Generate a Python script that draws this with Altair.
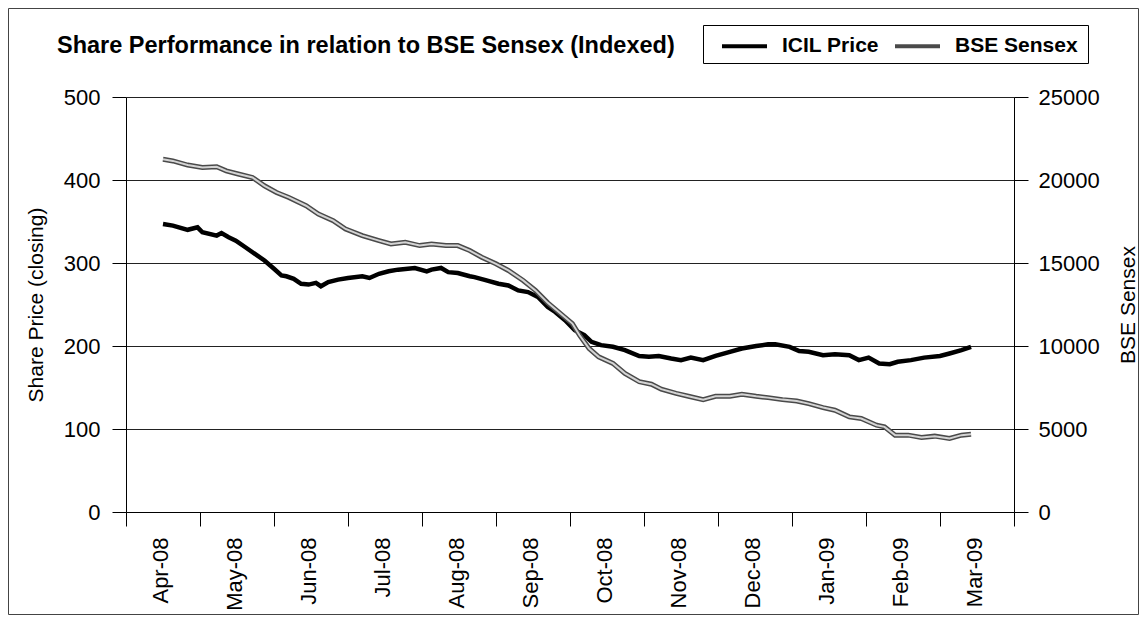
import altair as alt
import pandas as pd
import calendar

# ---- data ----
months = ["Apr-08", "May-08", "Jun-08", "Jul-08", "Aug-08", "Sep-08",
          "Oct-08", "Nov-08", "Dec-08", "Jan-09", "Feb-09", "Mar-09"]

icil_dates = ["2008-04-16", "2008-04-20", "2008-04-26", "2008-04-30", "2008-05-02", "2008-05-08",
              "2008-05-10", "2008-05-13", "2008-05-16", "2008-05-20", "2008-05-24", "2008-05-28",
              "2008-06-01", "2008-06-04", "2008-06-06", "2008-06-09", "2008-06-12", "2008-06-15",
              "2008-06-18", "2008-06-20", "2008-06-23", "2008-06-27", "2008-07-01", "2008-07-07",
              "2008-07-10", "2008-07-14", "2008-07-18", "2008-07-22", "2008-07-29", "2008-08-03",
              "2008-08-05", "2008-08-09", "2008-08-12", "2008-08-16", "2008-08-21", "2008-08-23",
              "2008-08-28", "2008-09-02", "2008-09-06", "2008-09-10", "2008-09-14", "2008-09-18",
              "2008-09-22", "2008-09-25", "2008-09-29", "2008-10-03", "2008-10-07", "2008-10-10",
              "2008-10-14", "2008-10-19", "2008-10-24", "2008-10-30", "2008-11-03", "2008-11-07",
              "2008-11-12", "2008-11-16", "2008-11-20", "2008-11-25", "2008-11-30", "2008-12-06",
              "2008-12-11", "2008-12-17", "2008-12-22", "2008-12-25", "2008-12-31", "2009-01-04",
              "2009-01-08", "2009-01-14", "2009-01-19", "2009-01-25", "2009-01-29", "2009-02-02",
              "2009-02-06", "2009-02-10", "2009-02-13", "2009-02-18", "2009-02-23", "2009-03-01",
              "2009-03-05", "2009-03-10", "2009-03-14"]
icil_price = [347, 345, 340, 343, 337, 333, 336, 331, 327, 319, 311, 303,
              293, 285, 284, 281, 275, 274, 276, 272, 277, 280, 282, 284,
              282, 287, 290, 292, 294, 290, 292, 294, 289, 288, 284, 283,
              279, 275, 273, 267, 265, 259, 247, 241, 231, 219, 213, 205,
              201, 199, 195, 188, 187, 188, 185, 183, 186, 183, 188, 193,
              197, 200, 202, 202, 199, 194, 193, 189, 190, 189, 183, 186,
              179, 178, 181, 183, 186, 188, 191, 195, 199]

sensex_dates = ["2008-04-16", "2008-04-20", "2008-04-26", "2008-05-02", "2008-05-08", "2008-05-12",
                "2008-05-17", "2008-05-23", "2008-05-28", "2008-06-02", "2008-06-07", "2008-06-14",
                "2008-06-19", "2008-06-25", "2008-06-30", "2008-07-07", "2008-07-14", "2008-07-19",
                "2008-07-25", "2008-07-31", "2008-08-05", "2008-08-11", "2008-08-16", "2008-08-21",
                "2008-08-26", "2008-09-01", "2008-09-06", "2008-09-12", "2008-09-17", "2008-09-22",
                "2008-09-28", "2008-10-02", "2008-10-05", "2008-10-09", "2008-10-13", "2008-10-19",
                "2008-10-24", "2008-10-30", "2008-11-04", "2008-11-08", "2008-11-14", "2008-11-19",
                "2008-11-25", "2008-11-30", "2008-12-06", "2008-12-11", "2008-12-17", "2008-12-22",
                "2008-12-28", "2009-01-03", "2009-01-08", "2009-01-14", "2009-01-19", "2009-01-25",
                "2009-01-30", "2009-02-05", "2009-02-08", "2009-02-12", "2009-02-17", "2009-02-22",
                "2009-02-27", "2009-03-05", "2009-03-10", "2009-03-14"]
sensex_close = [21250, 21150, 20900, 20750, 20800, 20550, 20360, 20150, 19650, 19250, 18950, 18450,
                17950, 17550, 17050, 16650, 16350, 16150, 16250, 16050, 16150, 16050, 16050, 15750,
                15350, 14950, 14550, 13950, 13350, 12600, 11850, 11350, 10650, 9850, 9350, 8950,
                8350, 7850, 7700, 7400, 7150, 6970, 6770, 6970, 6970, 7090, 6970, 6890,
                6770, 6690, 6530, 6290, 6130, 5730, 5630, 5230, 5130, 4630, 4630, 4490,
                4570, 4430, 4630, 4690]

series_names = ["ICIL Price", "BSE Sensex"]
month_ticks = list(range(13))
left_ticks = [0, 100, 200, 300, 400, 500]
right_ticks = [0, 5000, 10000, 15000, 20000, 25000]


def month_pos(d):
    t = pd.Timestamp(d)
    days = calendar.monthrange(t.year, t.month)[1]
    return (t.year - 2008) * 12 + (t.month - 4) + (t.day - 1) / days


icil = pd.DataFrame({"date": icil_dates, "price": icil_price})
icil["pos"] = icil["date"].map(month_pos)
icil["series"] = series_names[0]
sensex = pd.DataFrame({"date": sensex_dates, "close": sensex_close})
sensex["pos"] = sensex["date"].map(month_pos)
sensex["series"] = series_names[1]

W, H = 888, 415
SANS = "Liberation Sans, Arial, sans-serif"

label_expr = "datum.value < 12 ? " + str(months) + "[datum.value] : ''"

x_enc = alt.X("pos:Q", scale=alt.Scale(domain=[0, 12], nice=False, zero=False),
              axis=alt.Axis(values=month_ticks, labelExpr=label_expr, labelAngle=270,
                            labelOffset=34, tickSize=14, labelPadding=11, grid=False,
                            domainColor="black", tickColor="black", labelColor="black",
                            labelFont=SANS, labelFontSize=22, title=None))

color_scale = alt.Scale(domain=series_names, range=["black", "#4a4a4a"])

legend = alt.Legend(title=None, orient="none", legendX=594, legendY=-75.5, direction="horizontal",
                    padding=0, symbolType="stroke", symbolSize=2025,
                    symbolStrokeWidth=4, labelFont=SANS, labelFontSize=21, labelFontWeight="bold",
                    labelColor="black", labelOffset=13, columnPadding=8, labelLimit=400)

frame_df = pd.DataFrame({"k": [0]})
border = alt.Chart(frame_df).mark_rect(
    fill="white", fillOpacity=0, stroke="#444", strokeWidth=1
).encode(x=alt.value(-117.5), x2=alt.value(W + 124.5), y=alt.value(-88.5), y2=alt.value(H + 102.5))
legend_box = alt.Chart(frame_df).mark_rect(
    fill="white", stroke="black", strokeWidth=1
).encode(x=alt.value(577.5), x2=alt.value(962.5), y=alt.value(-71.5), y2=alt.value(-33.5))

icil_line = alt.Chart(icil).mark_line(strokeWidth=4.5).encode(
    x=x_enc,
    y=alt.Y("price:Q", scale=alt.Scale(domain=[0, 500], nice=False),
            axis=alt.Axis(orient="left", values=left_ticks, tickSize=14,
                          labelPadding=12, grid=True, gridColor="#222", gridWidth=1,
                          domainColor="black", tickColor="black", labelColor="black",
                          labelFont=SANS, labelFontSize=22, title="Share Price (closing)",
                          titleFont=SANS, titleFontSize=21, titleFontWeight="normal",
                          titleColor="black", titleX=-90, titleY=H / 2, titleAngle=270,
                          titleAlign="center", titleBaseline="middle")),
    color=alt.Color("series:N", scale=color_scale, legend=legend),
)

sensex_y_scale = alt.Scale(domain=[0, 25000], nice=False)
right_axis = alt.Axis(orient="right", values=right_ticks, format="d",
                      tickSize=14, labelPadding=10, grid=False, domainColor="black",
                      tickColor="black", labelColor="black", labelFont=SANS,
                      labelFontSize=22, title="BSE Sensex", titleFont=SANS,
                      titleFontSize=21, titleFontWeight="normal", titleColor="black",
                      titleX=114, titleY=H / 2, titleAngle=270, titleAlign="center",
                      titleBaseline="middle")
sensex_outer = alt.Chart(sensex).mark_line(strokeWidth=5).encode(
    x=x_enc,
    y=alt.Y("close:Q", scale=sensex_y_scale, axis=right_axis),
    color=alt.Color("series:N", scale=color_scale, legend=legend),
)
sensex_inner = alt.Chart(sensex).mark_line(strokeWidth=2, color="#d4d4d4").encode(
    x=x_enc,
    y=alt.Y("close:Q", scale=sensex_y_scale, axis=right_axis),
)
sensex_layer = alt.layer(sensex_outer, sensex_inner)

main = alt.layer(icil_line, sensex_layer).resolve_scale(y="independent")

chart = alt.layer(border, legend_box, main).properties(
    width=W, height=H,
    autosize=alt.AutoSizeParams(type="none"),
    padding={"left": 118, "top": 89, "right": 125, "bottom": 103},
    title=alt.Title("Share Performance in relation to BSE Sensex (Indexed)", anchor="start",
                    frame="group", dx=-69, offset=-49, fontSize=23.5, font=SANS,
                    fontWeight="bold", color="black"),
).configure_view(strokeWidth=0).configure(background="white")

chart.save("out.html", embed_options={"renderer": "svg", "actions": False})
